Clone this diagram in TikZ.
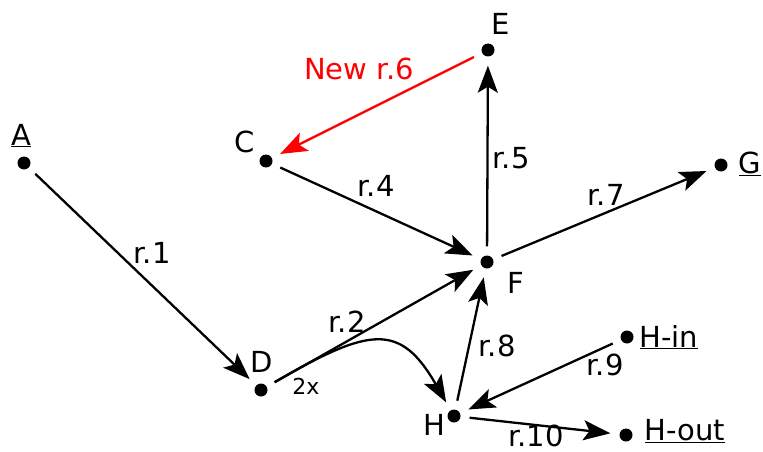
\documentclass[tikz,border=0pt]{standalone}
\usepackage{fontspec}
\setmainfont{DejaVu Sans}
\usetikzlibrary{arrows.meta}
\definecolor{newred}{RGB}{255,0,0}
\begin{document}
\begin{tikzpicture}[x=1pt,y=-1pt,
  dot/.style={circle,fill=black,inner sep=0pt,minimum size=13pt},
  lbl/.style={anchor=base,inner sep=0pt,font=\fontsize{29}{33}\selectfont},
  small/.style={anchor=base,inner sep=0pt,font=\fontsize{22}{26}\selectfont},
  edge/.style={line width=2.3pt,-{Stealth[length=27pt,width=20pt,inset=6pt]},shorten >=9pt,shorten <=9pt}]
\useasboundingbox (0,0) rectangle (763,452);
% dots
\node[dot] (A) at (24,163) {};
\node[dot] (C) at (266,161) {};
\node[dot] (E) at (488,50) {};
\node[dot] (F) at (487,262) {};
\node[dot] (G) at (721,165) {};
\node[dot] (D) at (261,390) {};
\node[dot] (H) at (454,416) {};
\node[dot] (Hin) at (627,337) {};
\node[dot] (Hout) at (626,435) {};
% names
\node[lbl] (tA) at (21,145) {\underline{A}};
\node[lbl] (tC) at (245,152) {C};
\node[lbl] (tE) at (501,35) {E};
\node[lbl] (tF) at (516,293) {F};
\node[lbl] (tG) at (750,173) {\underline{G}};
\node[lbl] (tD) at (262,372) {D};
\node[lbl] (tH) at (434,435) {H};
\node[lbl] (tHin) at (669,347) {\underline{H-in}};
\node[lbl] (tHout) at (685,440) {\underline{H-out}};
% connectors
\draw[edge] (A) -- (D);
\draw[edge] (C) -- (F);
\draw[edge,newred] (E) -- (C);
\draw[edge] (F) -- (E);
\draw[edge] (F) -- (G);
\draw[edge] (D) -- (F);
\draw[edge] (D) .. controls (370,327) and (400,322) .. (H);
\draw[edge] (H) -- (F);
\draw[edge] (Hin) -- (H);
\draw[edge] (H) -- (Hout);
% edge labels
\node[lbl] (l1) at (152,263) {r.1};
\node[lbl] (l4) at (376,196) {r.4};
\node[lbl,text=newred] (l6) at (359,79) {New r.6};
\node[lbl] (l5) at (511,168) {r.5};
\node[lbl] (l7) at (606,205) {r.7};
\node[lbl] (l2) at (347,332) {r.2};
\node[small] (l2x) at (306,394) {2x};
\node[lbl] (l8) at (497,356) {r.8};
\node[lbl] (l9) at (605,375) {r.9};
\node[lbl] (l10) at (536,446) {r.10};
\end{tikzpicture}
\end{document}
